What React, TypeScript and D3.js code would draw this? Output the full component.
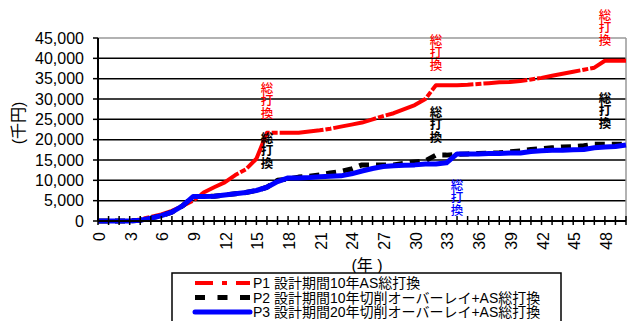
import { useEffect } from "react"
import * as d3 from "d3"

const years = d3.range(0, 51)

// P1 設計期間10年AS総打換
const p1 = [
  0, 0, 0, 0, 400, 1000, 1600, 2500, 3700, 5000,
  7000, 8300, 9500, 11300, 12700, 15300, 21700, 21700, 21700, 21700,
  22000, 22300, 22700, 23200, 23700, 24200, 25000, 25800, 26500, 27500,
  28500, 30000, 33400, 33400, 33400, 33500, 33700, 33900, 34100, 34200,
  34400, 34800, 35200, 35700, 36200, 36700, 37200, 37700, 39400, 39400, 39400,
]

// P2 設計期間10年切削オーバーレイ+AS総打換
const p2 = [
  0, 0, 0, 0, 200, 700, 1300, 2200, 3700, 6000,
  6000, 6100, 6400, 6700, 7000, 7500, 8300, 10000, 10300, 10800,
  11000, 11300, 11800, 12200, 12800, 13800, 13800, 13800, 13800, 14200,
  14500, 14800, 16200, 16200, 16400, 16500, 16600, 16700, 16800, 17000,
  17200, 17600, 17800, 18000, 18200, 18300, 18500, 18900, 18900, 18900, 18900,
]

// P3 設計期間20年切削オーバーレイ+AS総打換
const p3 = [
  0, 0, 0, 0, 200, 700, 1300, 2200, 3700, 6000,
  6000, 6100, 6400, 6700, 7000, 7500, 8300, 9700, 10600, 10600,
  10700, 10900, 11000, 11100, 11600, 12300, 12900, 13400, 13600, 13700,
  13800, 14000, 14000, 14300, 16500, 16500, 16500, 16600, 16600, 16700,
  16700, 17100, 17300, 17400, 17400, 17500, 17600, 18000, 18200, 18300, 18700,
]

const yTicks = [0, 5000, 10000, 15000, 20000, 25000, 30000, 35000, 40000, 45000]
const xTickLabels = d3.range(0, 49, 3)

const legendLabels = [
  "P1 設計期間10年AS総打換",
  "P2 設計期間10年切削オーバーレイ+AS総打換",
  "P3 設計期間20年切削オーバーレイ+AS総打換",
]

// 総打換 markers: year and value (top character)
const notes = [
  { year: 16, value: 32700, color: "#ff0000" },
  { year: 16, value: 20400, color: "#000000" },
  { year: 32, value: 44500, color: "#ff0000" },
  { year: 32, value: 26800, color: "#000000" },
  { year: 48, value: 50600, color: "#ff0000" },
  { year: 48, value: 30200, color: "#000000" },
  { year: 34, value: 8850, color: "#0000ff" },
]

const latin = "'Liberation Sans', Arial, 'Noto Sans CJK JP', sans-serif"
const cjk = "'Liberation Sans', 'Noto Sans CJK JP', sans-serif"
const cjkOnly = "'Noto Sans CJK JP', sans-serif"

export default function App() {
  useEffect(() => {
    document.body.style.margin = "0"
  }, [])

  const width = 630
  const height = 321
  const x = d3.scaleLinear().domain([0, 50]).range([98, 626])
  const y = d3.scaleLinear().domain([0, 45000]).range([221, 38])

  const line = d3
    .line<number>()
    .x((_, i) => x(years[i]))
    .y((d) => y(d))

  const series = [
    { values: p1, color: "#ff0000", width: 4, dash: "44,2,6,2" },
    { values: p2, color: "#000000", width: 5, dash: "10,7" },
    { values: p3, color: "#0000ff", width: 5, dash: "" },
  ]

  const legendDash = ["18,9,5,9", "10,12.5", ""]
  const noteSize = 12.5

  return (
    <svg width={width} height={height} style={{ display: "block", background: "#fff" }}>
      {/* grid */}
      {yTicks.slice(1, -1).map((t) => (
        <line key={t} x1={x(0)} x2={x(50)} y1={y(t)} y2={y(t)} stroke="#000" strokeWidth={1.5} />
      ))}
      <line x1={x(0)} x2={x(50)} y1={y(45000)} y2={y(45000)} stroke="#999" strokeWidth={1.5} />
      <line x1={x(50)} x2={x(50)} y1={y(45000)} y2={y(0)} stroke="#999" strokeWidth={1.5} />

      {/* series */}
      {series.map((s, i) => (
        <path
          key={i}
          d={line(s.values) || ""}
          fill="none"
          stroke={s.color}
          strokeWidth={s.width}
          strokeDasharray={s.dash || undefined}
          strokeLinejoin="round"
        />
      ))}

      {/* axes */}
      <line x1={x(0)} x2={x(0)} y1={y(45000)} y2={y(0)} stroke="#000" strokeWidth={2} />
      <line x1={x(0)} x2={x(50)} y1={y(0)} y2={y(0)} stroke="#000" strokeWidth={2} />
      {yTicks.map((t) => (
        <g key={t}>
          <line x1={x(0) - 5} x2={x(0)} y1={y(t)} y2={y(t)} stroke="#000" strokeWidth={1.5} />
          <text
            x={84}
            y={y(t)}
            dy="0.36em"
            textAnchor="end"
            fontFamily={latin}
            fontSize={16}
            fill="#000"
          >
            {d3.format(",")(t)}
          </text>
        </g>
      ))}
      {years.map((yr) => (
        <line key={yr} x1={x(yr)} x2={x(yr)} y1={y(0) - 5} y2={y(0) + 4} stroke="#000" strokeWidth={1.5} />
      ))}
      {xTickLabels.map((yr) => (
        <text
          key={yr}
          transform={`translate(${x(yr) + 1.5},232) rotate(-90)`}
          textAnchor="end"
          dominantBaseline="central"
          fontFamily={latin}
          fontSize={16}
          fill="#000"
        >
          {yr}
        </text>
      ))}

      {/* axis titles */}
      <text
        transform="translate(18,123) rotate(-90)"
        textAnchor="middle"
        dominantBaseline="central"
        fontFamily={cjk}
        fontSize={16}
      >
        (千円)
      </text>
      <text x={367} y={265} textAnchor="middle" dominantBaseline="central" fontFamily={cjk} fontSize={16}>
        (年 )
      </text>

      {/* notes */}
      {notes.map((n, i) => (
        <text
          key={i}
          x={x(n.year)}
          y={y(n.value) - noteSize / 2}
          style={{ writingMode: "vertical-rl" }}
          fill={n.color}
          fontFamily={cjkOnly}
          fontSize={noteSize}
          fontWeight={n.color === "#000000" ? 700 : 500}
        >
          総打換
        </text>
      ))}

      {/* legend */}
      <rect x={172} y={273} width={389} height={60} fill="#fff" stroke="#000" strokeWidth={1.5} />
      {legendLabels.map((lab, i) => {
        const cy = 283 + i * 14.5
        return (
          <g key={i}>
            <line
              x1={195}
              x2={250}
              y1={cy}
              y2={cy}
              stroke={series[i].color}
              strokeWidth={i === 0 ? 4 : 5}
              strokeDasharray={legendDash[i] || undefined}
              strokeLinecap={i === 2 ? "round" : "butt"}
            />
            <text x={253} y={cy} dominantBaseline="central" fontFamily={cjk} fontSize={14} fill="#000">
              {lab}
            </text>
          </g>
        )
      })}
    </svg>
  )
}
